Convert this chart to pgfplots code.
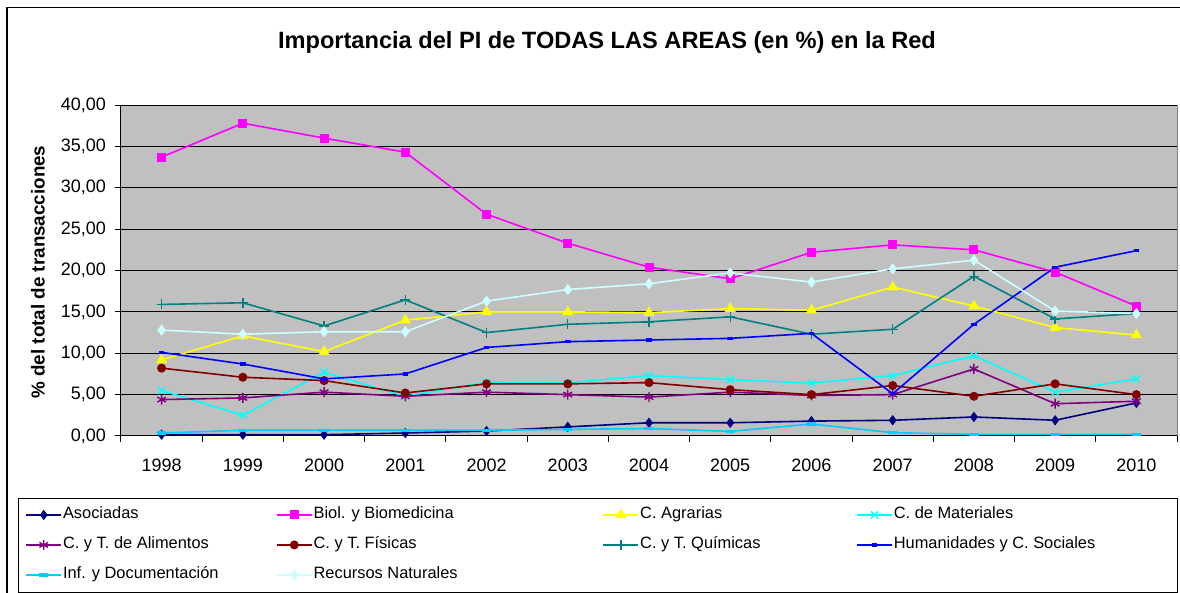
\documentclass[border=0pt]{standalone}
\usepackage{pgfplots}
\pgfplotsset{compat=1.18}
\usepackage{fontspec}
\setmainfont{Liberation Sans}
\definecolor{cAso}{HTML}{000080}
\definecolor{cBio}{HTML}{FF00FF}
\definecolor{cAgr}{HTML}{FFFF00}
\definecolor{cMat}{HTML}{00FFFF}
\definecolor{cAli}{HTML}{800080}
\definecolor{cFis}{HTML}{800000}
\definecolor{cQui}{HTML}{008080}
\definecolor{cHum}{HTML}{0000FF}
\definecolor{cInf}{HTML}{00CCFF}
\definecolor{cRec}{HTML}{CCFFFF}
\definecolor{silver}{HTML}{C0C0C0}
\begin{document}
\begin{tikzpicture}
\useasboundingbox (0,0) rectangle (590pt,-296.5pt);
\draw[black, line width=0.6pt] (3.5pt,-3.8pt) rectangle (600pt,-320pt);
\node[font=\fontsize{11.8}{13}\selectfont\bfseries] at (303.5pt,-21.3pt) {Importancia del PI de TODAS LAS AREAS (en \%) en la Red};
\node[font=\fontsize{9.4}{11}\selectfont\bfseries, rotate=90] at (19pt,-136pt) {\% del total de transacciones};
\begin{axis}[
  at={(60.5pt,-218pt)}, anchor=south west,
  scale only axis, width=528pt, height=165.5pt,
  xmin=-0.5, xmax=12.5, ymin=0, ymax=40,
  clip=false,
  axis background/.style={fill=silver},
  axis x line*=bottom, axis y line*=left,
  axis line style={black, line width=0.5pt},
  ytick={0,5,...,40},
  yticklabel={\pgfmathprintnumber[fixed,fixed zerofill,precision=2,use comma,assume math mode=true]{\tick}},
  ymajorgrids, grid style={black, line width=0.5pt},
  xtick={0,...,12},
  xticklabels={1998,1999,2000,2001,2002,2003,2004,2005,2006,2007,2008,2009,2010},
  minor xtick={-0.5,0.5,...,12.5},
  major x tick style={draw=none},
  tick align=outside,
  major tick length=3pt, minor tick length=3pt,
  tick style={black, line width=0.5pt},
  tick label style={font=\fontsize{9}{10}\selectfont},
  xticklabel style={yshift=-5pt},
  yticklabel style={xshift=-1pt},
  legend columns=4,
  legend cell align=left,
  legend style={at={(-0.0975,-0.186)}, anchor=north west, draw=black, fill=white,
    inner xsep=3.5pt, inner ysep=4pt, row sep=6pt,
    nodes={inner xsep=0.5pt, inner ysep=0.5pt, text height=6pt, text depth=2pt},
    font=\fontsize{8.2}{10}\selectfont},
  legend image code/.code={\draw[mark repeat=2,mark phase=2] plot coordinates {(0pt,0pt) (8.75pt,0pt) (17.5pt,0pt)};},
]
\draw[gray] (rel axis cs:1,0) -- (rel axis cs:1,1);
\addplot[cAso, line width=0.8pt, mark=diamond*, mark size=2.2pt, mark options={solid, fill=cAso, draw=cAso, line width=0.5pt}] coordinates {
(0,0.16) (1,0.16) (2,0.16) (3,0.36) (4,0.6) (5,1.1) (6,1.6) (7,1.6) (8,1.8) (9,1.9) (10,2.3) (11,1.9) (12,4.0)};
\addlegendentry{\makebox[106pt][l]{Asociadas}}
\addplot[cBio, line width=0.8pt, mark=square*, mark size=2pt, mark options={solid, fill=cBio, draw=cBio, line width=0.5pt}] coordinates {
(0,33.7) (1,37.8) (2,36.0) (3,34.3) (4,26.8) (5,23.3) (6,20.4) (7,19.0) (8,22.2) (9,23.1) (10,22.5) (11,19.8) (12,15.7)};
\addlegendentry{\makebox[144pt][l]{Biol. y Biomedicina}}
\addplot[cAgr, line width=0.8pt, mark=triangle*, mark size=2.7pt, mark options={solid, fill=cAgr, draw=cAgr, line width=0.5pt}] coordinates {
(0,9.2) (1,12.1) (2,10.2) (3,14.0) (4,15.0) (5,15.0) (6,14.9) (7,15.4) (8,15.2) (9,18.0) (10,15.7) (11,13.1) (12,12.2)};
\addlegendentry{\makebox[107.5pt][l]{C. Agrarias}}
\addplot[cMat, line width=0.8pt, mark=x, mark size=2.5pt, mark options={solid, draw=cMat, line width=0.7pt}] coordinates {
(0,5.5) (1,2.5) (2,7.7) (3,4.8) (4,6.5) (5,6.45) (6,7.3) (7,6.8) (8,6.4) (9,7.3) (10,9.7) (11,5.3) (12,6.9)};
\addlegendentry{\makebox[138pt][l]{C. de Materiales}}
\addplot[cAli, line width=0.8pt, mark=asterisk, mark size=2.5pt, mark options={solid, draw=cAli, line width=0.7pt}] coordinates {
(0,4.4) (1,4.6) (2,5.3) (3,4.8) (4,5.3) (5,5.0) (6,4.7) (7,5.3) (8,4.9) (9,5.0) (10,8.1) (11,3.9) (12,4.2)};
\addlegendentry{\makebox[106pt][l]{C. y T. de Alimentos}}
\addplot[cFis, line width=0.8pt, mark=*, mark size=2pt, mark options={solid, fill=cFis, draw=cFis, line width=0.5pt}] coordinates {
(0,8.2) (1,7.1) (2,6.7) (3,5.2) (4,6.3) (5,6.3) (6,6.45) (7,5.6) (8,5.0) (9,6.1) (10,4.8) (11,6.3) (12,5.0)};
\addlegendentry{\makebox[144pt][l]{C. y T. Físicas}}
\addplot[cQui, line width=0.8pt, mark=+, mark size=2.5pt, mark options={solid, draw=cQui, line width=0.7pt}] coordinates {
(0,15.9) (1,16.1) (2,13.3) (3,16.45) (4,12.5) (5,13.5) (6,13.8) (7,14.4) (8,12.3) (9,12.9) (10,19.3) (11,14.15) (12,14.8)};
\addlegendentry{\makebox[107.5pt][l]{C. y T. Químicas}}
\addplot[cHum, line width=0.8pt, mark=-, mark size=1.4pt, mark options={solid, draw=cHum, line width=1.6pt}] coordinates {
(0,10.1) (1,8.7) (2,6.9) (3,7.5) (4,10.7) (5,11.4) (6,11.6) (7,11.8) (8,12.4) (9,5.1) (10,13.5) (11,20.4) (12,22.4)};
\addlegendentry{\makebox[138pt][l]{Humanidades y C. Sociales}}
\addplot[cInf, line width=0.8pt, mark=-, mark size=2.3pt, mark options={solid, draw=cInf, line width=1.6pt}] coordinates {
(0,0.36) (1,0.7) (2,0.7) (3,0.7) (4,0.7) (5,0.8) (6,0.9) (7,0.56) (8,1.45) (9,0.4) (10,0.2) (11,0.2) (12,0.2)};
\addlegendentry{\makebox[106pt][l]{Inf. y Documentación}}
\addplot[cRec, line width=0.8pt, mark=diamond*, mark size=2.4pt, mark options={solid, fill=cRec, draw=cRec, line width=0.5pt}] coordinates {
(0,12.8) (1,12.3) (2,12.6) (3,12.6) (4,16.3) (5,17.7) (6,18.4) (7,19.7) (8,18.6) (9,20.2) (10,21.25) (11,15.1) (12,14.8)};
\addlegendentry{\makebox[144pt][l]{Recursos Naturales}}
\end{axis}
\end{tikzpicture}
\end{document}
